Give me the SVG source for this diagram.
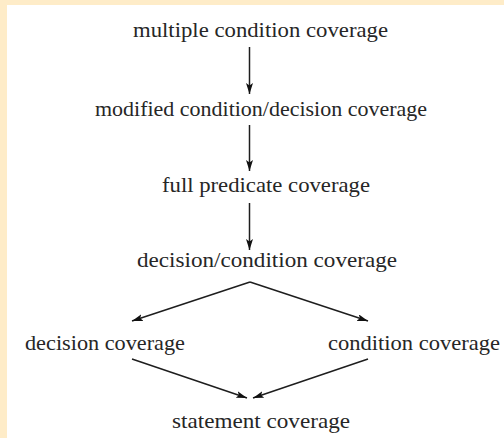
<svg xmlns="http://www.w3.org/2000/svg" width="504" height="438" viewBox="0 0 504 438">
<style>
.t{font-family:'Liberation Serif',Tinos,'Times New Roman',Times,serif;font-size:21px;fill:#262626;text-anchor:middle}
.c{stroke:#1e1e1e;stroke-width:1.5;fill:none;marker-end:url(#ah)}
</style>
<defs>
<marker id="ah" viewBox="0 0 11 7" refX="11" refY="3.5" markerWidth="11" markerHeight="7" markerUnits="userSpaceOnUse" orient="auto">
<path d="M0,0 L11,3.5 L0,7 L2.5,3.5 Z" fill="#111"/>
</marker>
</defs>
<rect x="0" y="0" width="504" height="438" fill="#fff"/>
<rect x="0" y="0" width="504" height="5" fill="#feecc8"/>
<rect x="0" y="0" width="7" height="438" fill="#feecc8"/>
<g id="connectors">
<line class="c" x1="249.5" y1="47" x2="249.5" y2="94"/>
<line class="c" x1="249.5" y1="125" x2="249.5" y2="171"/>
<line class="c" x1="249.5" y1="203" x2="249.5" y2="250"/>
<line class="c" x1="250" y1="282" x2="132" y2="321"/>
<line class="c" x1="250" y1="282" x2="368" y2="321"/>
<line class="c" x1="132" y1="359" x2="247" y2="398"/>
<line class="c" x1="368" y1="359" x2="253" y2="398"/>
</g>
<g id="n1"><text class="t" font-family="Liberation Serif" x="260.5" y="37" textLength="255" lengthAdjust="spacingAndGlyphs">multiple condition coverage</text></g>
<g id="n2"><text class="t" font-family="Liberation Serif" x="261" y="116" textLength="332" lengthAdjust="spacingAndGlyphs">modified condition/decision coverage</text></g>
<g id="n3"><text class="t" font-family="Liberation Serif" x="266" y="192" textLength="208" lengthAdjust="spacingAndGlyphs">full predicate coverage</text></g>
<g id="n4"><text class="t" font-family="Liberation Serif" x="267" y="267" textLength="260" lengthAdjust="spacingAndGlyphs">decision/condition coverage</text></g>
<g id="n5"><text class="t" font-family="Liberation Serif" x="105" y="350" textLength="160" lengthAdjust="spacingAndGlyphs">decision coverage</text></g>
<g id="n6"><text class="t" font-family="Liberation Serif" x="414" y="350" textLength="172" lengthAdjust="spacingAndGlyphs">condition coverage</text></g>
<g id="n7"><text class="t" font-family="Liberation Serif" x="261" y="428" textLength="178" lengthAdjust="spacingAndGlyphs">statement coverage</text></g>
</svg>
